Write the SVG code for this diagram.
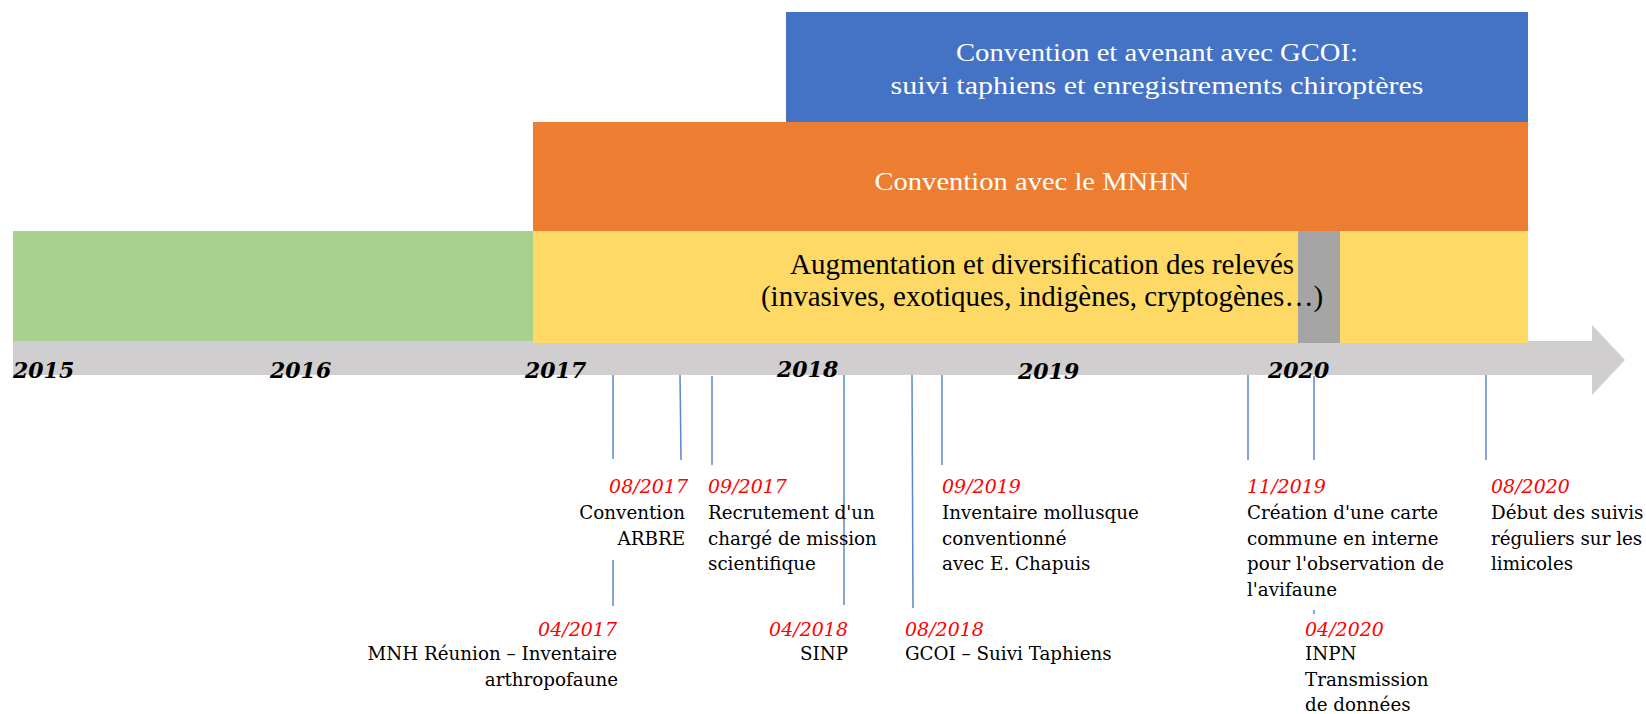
<svg xmlns="http://www.w3.org/2000/svg" width="1646" height="714" viewBox="0 0 1646 714">
<style>
.yr{font-family:"DejaVu Serif","Liberation Serif",serif;font-style:italic;font-weight:bold;font-size:22px;fill:#000}
.dt{font-family:"DejaVu Serif","Liberation Serif",serif;font-style:italic;font-size:19px;fill:#FF0000}
.tx{font-family:"DejaVu Serif","Liberation Serif",serif;font-size:18.3px;fill:#000}
.bw{font-family:"Liberation Serif",serif;font-size:26px;fill:#fff}
.bk{font-family:"Liberation Serif",serif;font-size:29px;fill:#000}
.ln{stroke:#5B86D1;stroke-width:1.5;fill:none}
.r{text-anchor:end}
.m{text-anchor:middle}
</style>
<g id="axis">
<polygon points="13,341 1592,341 1592,325 1625,360 1592,395 1592,375 13,375" fill="#D0CECE"/>
</g>
<g id="bar-gcoi">
<rect x="786" y="12" width="742" height="110" fill="#4472C4"/>
<text class="bw m" x="1157" y="61" textLength="402" lengthAdjust="spacingAndGlyphs">Convention et avenant avec GCOI:</text>
<text class="bw m" x="1157" y="94" textLength="533" lengthAdjust="spacingAndGlyphs">suivi taphiens et enregistrements chiroptères</text>
</g>
<g id="bar-mnhn">
<rect x="533" y="122" width="995" height="109" fill="#ED7D31"/>
<text class="bw m" x="1032" y="190" textLength="315" lengthAdjust="spacingAndGlyphs">Convention avec le MNHN</text>
</g>
<g id="bar-green">
<rect x="13" y="231" width="520" height="110" fill="#A9D18E"/>
</g>
<g id="bar-yellow">
<rect x="533" y="231" width="995" height="112" fill="#FFD966"/>
<rect x="1298" y="231" width="42" height="112" fill="#A5A5A5"/>
<text class="bk m" x="1042" y="274">Augmentation et diversification des relevés</text>
<text class="bk m" x="1042" y="306">(invasives, exotiques, indigènes, cryptogènes…)</text>
</g>
<g id="years">
<text class="yr" x="13" y="378">2015</text>
<text class="yr" x="270" y="378">2016</text>
<text class="yr" x="525" y="378">2017</text>
<text class="yr" x="777" y="377">2018</text>
<text class="yr" x="1018" y="379">2019</text>
<text class="yr" x="1268" y="378">2020</text>
</g>
<g id="connectors">
<line class="ln" x1="613" y1="375" x2="613" y2="459"/>
<line class="ln" x1="613" y1="560" x2="613" y2="606"/>
<line class="ln" x1="680" y1="375" x2="681" y2="460"/>
<line class="ln" x1="712" y1="376" x2="712" y2="465" stroke-width="2.5"/>
<line class="ln" x1="844" y1="375" x2="844" y2="605"/>
<line class="ln" x1="912" y1="375" x2="913" y2="608"/>
<line class="ln" x1="942" y1="375" x2="942" y2="465"/>
<line class="ln" x1="1248" y1="375" x2="1248" y2="460"/>
<line class="ln" x1="1314" y1="376" x2="1314" y2="460"/>
<line class="ln" x1="1314" y1="610" x2="1314" y2="614"/>
<line class="ln" x1="1486" y1="375" x2="1486" y2="460"/>
</g>
<g id="ev-0817">
<text class="dt r" x="688" y="493">08/2017</text>
<text class="tx r" x="685" y="519">Convention</text>
<text class="tx r" x="685" y="545">ARBRE</text>
</g>
<g id="ev-0917">
<text class="dt" x="708" y="493">09/2017</text>
<text class="tx" x="708" y="519">Recrutement d'un</text>
<text class="tx" x="708" y="545">chargé de mission</text>
<text class="tx" x="708" y="570">scientifique</text>
</g>
<g id="ev-0919">
<text class="dt" x="942" y="493">09/2019</text>
<text class="tx" x="942" y="519">Inventaire mollusque</text>
<text class="tx" x="942" y="545">conventionné</text>
<text class="tx" x="942" y="570">avec E. Chapuis</text>
</g>
<g id="ev-1119">
<text class="dt" x="1247" y="493">11/2019</text>
<text class="tx" x="1247" y="519">Création d'une carte</text>
<text class="tx" x="1247" y="545">commune en interne</text>
<text class="tx" x="1247" y="570">pour l'observation de</text>
<text class="tx" x="1247" y="596">l'avifaune</text>
</g>
<g id="ev-0820">
<text class="dt" x="1491" y="493">08/2020</text>
<text class="tx" x="1491" y="519">Début des suivis</text>
<text class="tx" x="1491" y="545">réguliers sur les</text>
<text class="tx" x="1491" y="570">limicoles</text>
</g>
<g id="ev-0417">
<text class="dt r" x="617" y="636">04/2017</text>
<text class="tx r" x="617" y="660">MNH Réunion – Inventaire</text>
<text class="tx r" x="618" y="686">arthropofaune</text>
</g>
<g id="ev-0418">
<text class="dt r" x="848" y="636">04/2018</text>
<text class="tx r" x="848" y="660">SINP</text>
</g>
<g id="ev-0818">
<text class="dt" x="905" y="636">08/2018</text>
<text class="tx" x="905" y="660">GCOI – Suivi Taphiens</text>
</g>
<g id="ev-0420">
<text class="dt" x="1305" y="636">04/2020</text>
<text class="tx" x="1305" y="660">INPN</text>
<text class="tx" x="1305" y="686">Transmission</text>
<text class="tx" x="1305" y="711">de données</text>
</g>
</svg>
